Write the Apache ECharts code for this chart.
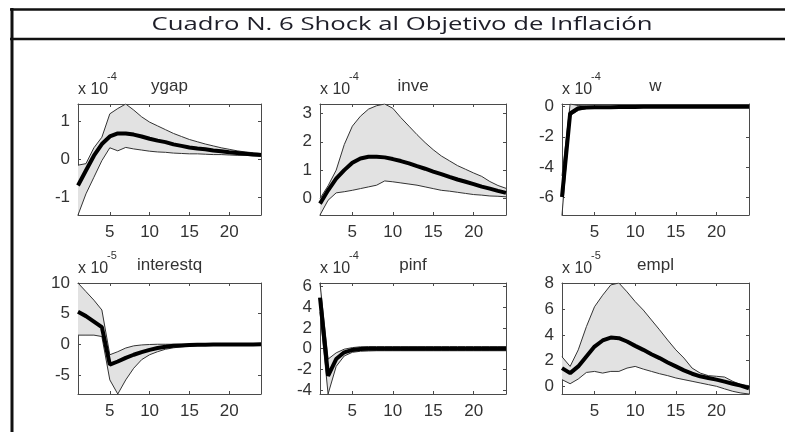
<!DOCTYPE html>
<html>
<head>
<meta charset="utf-8">
<script src="https://cdn.jsdelivr.net/npm/echarts@6/dist/echarts.min.js"></script>
<style>
  html, body { margin: 0; padding: 0; background: #fff; }
  #chart { width: 785px; height: 432px; }
</style>
</head>
<body>
<div id="chart"></div>
<script>
const periods = [1, 2, 3, 4, 5, 6, 7, 8, 9, 10, 11, 12, 13, 14, 15, 16, 17, 18, 19, 20, 21, 22, 23, 24];
const periodTicks = [5, 10, 15, 20];

// ygap (x 10^-4)
const ygapMean  = [-0.70, -0.30, 0.09, 0.40, 0.60, 0.68, 0.68, 0.65, 0.60, 0.54, 0.49, 0.45, 0.39, 0.35, 0.31, 0.28, 0.26, 0.23, 0.21, 0.18, 0.16, 0.14, 0.12, 0.11];
const ygapUpper = [-0.16, -0.12, 0.30, 0.58, 1.20, 1.34, 1.46, 1.30, 1.12, 0.98, 0.88, 0.78, 0.68, 0.60, 0.52, 0.46, 0.40, 0.35, 0.30, 0.26, 0.22, 0.19, 0.17, 0.15];
const ygapLower = [-1.48, -0.92, -0.48, -0.04, 0.30, 0.22, 0.31, 0.27, 0.24, 0.21, 0.19, 0.18, 0.16, 0.15, 0.14, 0.14, 0.13, 0.12, 0.12, 0.11, 0.10, 0.10, 0.09, 0.09];
const ygapTicks = [-1, 0, 1];

// inve (x 10^-4)
const inveMean  = [-0.18, 0.29, 0.70, 1.00, 1.26, 1.41, 1.47, 1.47, 1.45, 1.39, 1.32, 1.24, 1.14, 1.05, 0.95, 0.86, 0.76, 0.67, 0.59, 0.51, 0.42, 0.35, 0.27, 0.20];
const inveUpper = [0.00, 0.45, 1.00, 1.90, 2.55, 2.90, 3.15, 3.27, 3.33, 3.18, 2.85, 2.55, 2.25, 1.97, 1.72, 1.50, 1.33, 1.16, 1.03, 0.90, 0.78, 0.60, 0.46, 0.36];
const inveLower = [-0.58, -0.06, 0.20, 0.24, 0.29, 0.35, 0.41, 0.47, 0.62, 0.59, 0.55, 0.51, 0.47, 0.41, 0.35, 0.29, 0.26, 0.22, 0.18, 0.14, 0.12, 0.09, 0.08, 0.06];
const inveTicks = [0, 1, 2, 3];

// w (x 10^-4)
const wMean  = [-6.00, -0.45, -0.10, -0.05, -0.04, -0.03, -0.03, -0.02, -0.02, -0.02, -0.01, -0.01, -0.01, 0.00, 0.00, 0.00, 0.00, 0.00, 0.00, 0.00, 0.00, 0.00, 0.00, 0.00];
const wUpper = [-4.60, 0.18, 0.08, 0.04, 0.03, 0.02, 0.02, 0.02, 0.01, 0.01, 0.01, 0.01, 0.01, 0.01, 0.01, 0.01, 0.01, 0.01, 0.01, 0.01, 0.01, 0.01, 0.01, 0.01];
const wLower = [-7.20, -0.60, -0.25, -0.12, -0.08, -0.07, -0.06, -0.05, -0.05, -0.04, -0.04, -0.03, -0.03, -0.02, -0.02, -0.02, -0.02, -0.01, -0.01, -0.01, -0.01, -0.01, -0.01, -0.01];
const wTicks = [-6, -4, -2, 0];

// interestq (x 10^-5)
const interestqMean  = [5.30, 4.60, 3.70, 2.80, -3.30, -2.80, -2.20, -1.70, -1.27, -0.90, -0.60, -0.40, -0.25, -0.18, -0.12, -0.08, -0.05, -0.04, -0.03, -0.02, -0.02, -0.01, -0.01, 0.00];
const interestqUpper = [10.00, 8.60, 7.20, 5.60, -1.70, -1.20, -0.60, -0.25, -0.10, -0.03, 0.01, 0.01, 0.01, 0.01, 0.01, 0.01, 0.01, 0.01, 0.01, 0.01, 0.01, 0.01, 0.01, 0.01];
const interestqLower = [1.50, 1.50, 1.50, 1.27, -5.80, -8.10, -5.80, -3.90, -2.50, -1.70, -1.20, -0.80, -0.57, -0.40, -0.30, -0.22, -0.17, -0.13, -0.10, -0.08, -0.06, -0.05, -0.04, -0.03];
const interestqTicks = [-5, 0, 5, 10];

// pinf (x 10^-4)
const pinfMean  = [4.90, -2.60, -1.00, -0.35, -0.12, -0.04, -0.02, 0.00, 0.00, 0.00, 0.00, 0.00, 0.00, 0.00, 0.00, 0.00, 0.00, 0.00, 0.00, 0.00, 0.00, 0.00, 0.00, 0.00];
const pinfUpper = [6.30, -1.00, -0.40, -0.05, 0.10, 0.18, 0.20, 0.20, 0.20, 0.20, 0.20, 0.20, 0.20, 0.20, 0.20, 0.20, 0.20, 0.20, 0.20, 0.20, 0.20, 0.20, 0.20, 0.20];
const pinfLower = [3.50, -4.35, -1.70, -0.70, -0.35, -0.25, -0.22, -0.20, -0.20, -0.20, -0.20, -0.20, -0.20, -0.20, -0.20, -0.20, -0.20, -0.20, -0.20, -0.20, -0.20, -0.20, -0.20, -0.20];
const pinfTicks = [-4, -2, 0, 2, 4, 6];

// empl (x 10^-5)
const emplMean  = [1.42, 1.03, 1.55, 2.33, 3.10, 3.57, 3.80, 3.75, 3.49, 3.15, 2.84, 2.50, 2.20, 1.86, 1.55, 1.24, 0.98, 0.78, 0.65, 0.52, 0.36, 0.20, 0.05, -0.15];
const emplUpper = [2.30, 1.55, 2.84, 4.65, 6.20, 7.10, 7.90, 8.05, 7.36, 6.60, 5.94, 5.17, 4.40, 3.60, 2.84, 2.20, 1.42, 1.03, 0.83, 0.78, 0.72, 0.39, 0.13, 0.05];
const emplLower = [0.52, 0.20, 0.57, 1.08, 1.16, 1.03, 1.16, 1.16, 1.42, 1.55, 1.34, 1.16, 0.98, 0.83, 0.65, 0.52, 0.39, 0.26, 0.13, 0.00, -0.20, -0.39, -0.52, -0.60];
const emplTicks = [0, 2, 4, 6, 8];

const panels = [
  { title: 'ygap', exponent: '-4', mean: ygapMean, upper: ygapUpper, lower: ygapLower, ticks: ygapTicks },
  { title: 'inve', exponent: '-4', mean: inveMean, upper: inveUpper, lower: inveLower, ticks: inveTicks },
  { title: 'w', exponent: '-4', mean: wMean, upper: wUpper, lower: wLower, ticks: wTicks },
  { title: 'interestq', exponent: '-5', mean: interestqMean, upper: interestqUpper, lower: interestqLower, ticks: interestqTicks },
  { title: 'pinf', exponent: '-4', mean: pinfMean, upper: pinfUpper, lower: pinfLower, ticks: pinfTicks },
  { title: 'empl', exponent: '-5', mean: emplMean, upper: emplUpper, lower: emplLower, ticks: emplTicks }
];

const mainTitle = 'Cuadro N. 6 Shock al Objetivo de Inflación';

// subplot boxes, 2 rows x 3 columns
const colLeft = [78, 320, 562];
const colWidth = [183, 186, 187];
const rowTop = [104, 283];
const boxHeight = 111;

const labelFont = 'Liberation Sans';
const boxColor = '#4a4a4a';

// width of the title text, to stretch it like the picture
const measure = document.createElement('canvas').getContext('2d');
measure.font = '19px "Open Sans"';
const titleScale = 501 / measure.measureText(mainTitle).width;

const isPeriodTick = (idx, val) => periodTicks.indexOf(Number(val)) >= 0;

let grid = [], xAxis = [], yAxis = [], series = [];
let graphic = [
  { type: 'line', shape: { x1: 12, y1: 8, x2: 12, y2: 432 }, style: { stroke: '#111', lineWidth: 3 } },
  { type: 'line', shape: { x1: 10, y1: 9.5, x2: 785, y2: 9.5 }, style: { stroke: '#111', lineWidth: 2.5 } },
  { type: 'line', shape: { x1: 10, y1: 39, x2: 785, y2: 39 }, style: { stroke: '#111', lineWidth: 2.5 } },
  {
    type: 'text', x: 402, y: 25, scaleX: titleScale,
    style: { text: mainTitle, font: '19px "Open Sans"', fill: '#1e1e28', textAlign: 'center', textVerticalAlign: 'middle' }
  }
];

panels.forEach((p, i) => {
  const left = colLeft[i % 3];
  const width = colWidth[i % 3];
  const top = rowTop[Math.floor(i / 3)];
  const yMin = Math.min(...p.lower);
  const yMax = Math.max(...p.upper);

  grid.push({ left: left, top: top, width: width, height: boxHeight });

  const line = { show: true, onZero: false, lineStyle: { color: boxColor, width: 1 } };
  const labelStyle = { fontFamily: labelFont, fontSize: 17, color: '#333' };

  xAxis.push({
    type: 'category', gridIndex: i, data: periods, boundaryGap: false,
    axisLine: line,
    axisTick: { show: true, inside: true, length: 3, interval: isPeriodTick, lineStyle: { color: boxColor } },
    axisLabel: Object.assign({ show: true, interval: isPeriodTick, margin: 9 }, labelStyle),
    splitLine: { show: false }
  });
  xAxis.push({
    type: 'category', gridIndex: i, data: periods, boundaryGap: false, position: 'top',
    axisLine: line,
    axisTick: { show: true, inside: true, length: 3, interval: isPeriodTick, lineStyle: { color: boxColor } },
    axisLabel: { show: false },
    splitLine: { show: false }
  });
  yAxis.push({
    type: 'value', gridIndex: i, min: yMin, max: yMax,
    axisLine: line,
    axisTick: { show: true, inside: true, length: 3, customValues: p.ticks, lineStyle: { color: boxColor } },
    axisLabel: Object.assign({ show: true, customValues: p.ticks, margin: 8 }, labelStyle),
    splitLine: { show: false }
  });
  yAxis.push({
    type: 'value', gridIndex: i, position: 'right', min: yMin, max: yMax,
    axisLine: line,
    axisTick: { show: true, inside: true, length: 3, customValues: p.ticks, lineStyle: { color: boxColor } },
    axisLabel: { show: false },
    splitLine: { show: false }
  });

  const base = { type: 'line', xAxisIndex: 2 * i, yAxisIndex: 2 * i, symbol: 'none', silent: true, animation: false };
  // shaded band between lower and upper
  series.push(Object.assign({}, base, {
    data: p.lower, stack: 'band' + i, stackStrategy: 'all',
    lineStyle: { opacity: 0 }
  }));
  series.push(Object.assign({}, base, {
    data: p.upper.map((u, k) => u - p.lower[k]), stack: 'band' + i, stackStrategy: 'all',
    lineStyle: { opacity: 0 }, areaStyle: { color: '#e2e2e2', opacity: 1 }
  }));
  series.push(Object.assign({}, base, { data: p.upper, lineStyle: { color: '#333', width: 1 } }));
  series.push(Object.assign({}, base, { data: p.lower, lineStyle: { color: '#333', width: 1 } }));
  series.push(Object.assign({}, base, { data: p.mean, lineStyle: { color: '#000', width: 4 } }));

  // "x 10^-n" and the panel title
  graphic.push({
    type: 'text', x: left, y: top - 14.5,
    style: { text: 'x 10', font: '16px "' + labelFont + '"', fill: '#333', textAlign: 'left', textVerticalAlign: 'middle' }
  });
  graphic.push({
    type: 'text', x: left + 29, y: top - 27,
    style: { text: p.exponent, font: '11px "' + labelFont + '"', fill: '#333', textAlign: 'left', textVerticalAlign: 'middle' }
  });
  graphic.push({
    type: 'text', x: left + width / 2, y: top - 18,
    style: { text: p.title, font: '17px "' + labelFont + '"', fill: '#333', textAlign: 'center', textVerticalAlign: 'middle' }
  });
});

const chart = echarts.init(document.getElementById('chart'));
chart.setOption({
  animation: false,
  backgroundColor: '#fff',
  grid: grid,
  xAxis: xAxis,
  yAxis: yAxis,
  series: series,
  graphic: graphic
});
</script>
</body>
</html>
